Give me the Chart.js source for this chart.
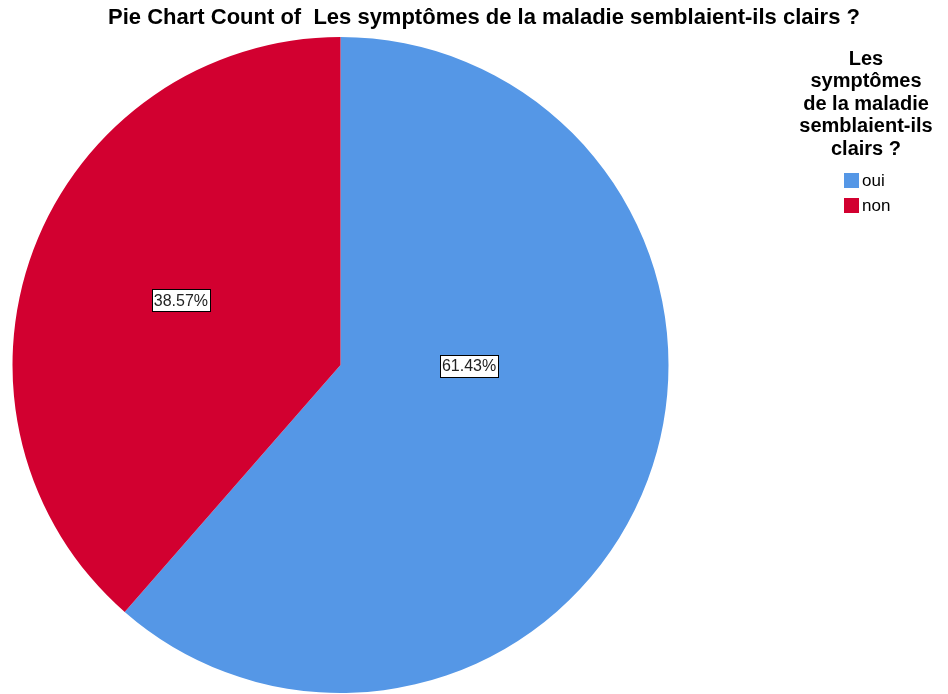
<!DOCTYPE html>
<html>
<head>
<meta charset="utf-8">
<script src="https://cdn.jsdelivr.net/npm/chart.js@4"></script>
<style>
  html, body { margin: 0; padding: 0; background: #fff; }
  #wrap { width: 948px; height: 694px; }
</style>
</head>
<body>
<div id="wrap"><canvas id="myChart" width="948" height="694"></canvas></div>
<script>
const chartTitle = "Pie Chart Count of  Les symptômes de la maladie semblaient-ils clairs ?";
const legendTitle = ["Les", "symptômes", "de la maladie", "semblaient-ils", "clairs ?"];
const categories = ["oui", "non"];
const counts = [43, 27];
const sliceColors = ['rgb(85, 151, 230)', 'rgb(210, 0, 48)'];

// labels are nudged from the library's tooltip position to sit where SPSS put them
const labelNudge = [[-25, -57], [-6, -7]];

const decorations = {
    id: 'decorations',
    afterDraw(chart) {
        const ctx = chart.ctx;
        const meta = chart.getDatasetMeta(0);
        const total = counts.reduce((a, b) => a + b, 0);

        ctx.save();
        // percentage boxes
        ctx.font = '16px "Liberation Sans", Arial, sans-serif';
        ctx.textAlign = 'center';
        ctx.textBaseline = 'middle';
        meta.data.forEach(function (arc, i) {
            const p = arc.tooltipPosition();
            const x = p.x + labelNudge[i][0];
            const y = p.y + labelNudge[i][1];
            const txt = (counts[i] / total * 100).toFixed(2) + '%';
            const w = ctx.measureText(txt).width + 4;
            const h = 22;
            ctx.fillStyle = '#fff';
            ctx.fillRect(Math.round(x - w / 2) + 0.5, Math.round(y - h / 2) + 0.5, Math.round(w), h);
            ctx.strokeStyle = '#000';
            ctx.lineWidth = 1;
            ctx.strokeRect(Math.round(x - w / 2) + 0.5, Math.round(y - h / 2) + 0.5, Math.round(w), h);
            ctx.fillStyle = '#222';
            ctx.fillText(txt, x, y + 1);
        });

        // title
        ctx.font = 'bold 22px "Liberation Sans", Arial, sans-serif';
        ctx.fillStyle = '#000';
        ctx.fillText(chartTitle, 484, 18, 762);

        // legend title
        ctx.font = 'bold 20px "Liberation Sans", Arial, sans-serif';
        legendTitle.forEach(function (line, i) {
            ctx.fillText(line, 866, 59 + i * 22.5, 146);
        });

        // legend items
        ctx.font = '17px "Liberation Sans", Arial, sans-serif';
        ctx.textAlign = 'left';
        categories.forEach(function (c, i) {
            const y = 173 + i * 25;
            ctx.fillStyle = sliceColors[i];
            ctx.fillRect(844, y, 15, 15);
            ctx.fillStyle = '#000';
            ctx.fillText(c, 862, y + 8, 30);
        });
        ctx.restore();
    }
};

const config = {
    type: 'pie',
    data: {
        labels: categories,
        datasets: [{
            data: counts,
            backgroundColor: sliceColors,
            borderWidth: 0
        }]
    },
    options: {
        responsive: false,
        animation: false,
        layout: {
            padding: { left: 12, top: 37, right: 279, bottom: 1 }
        },
        plugins: {
            legend: { display: false },
            title: { display: false },
            tooltip: { enabled: false }
        }
    },
    plugins: [decorations]
};

var myChart = new Chart(document.getElementById('myChart'), config);
</script>
</body>
</html>
